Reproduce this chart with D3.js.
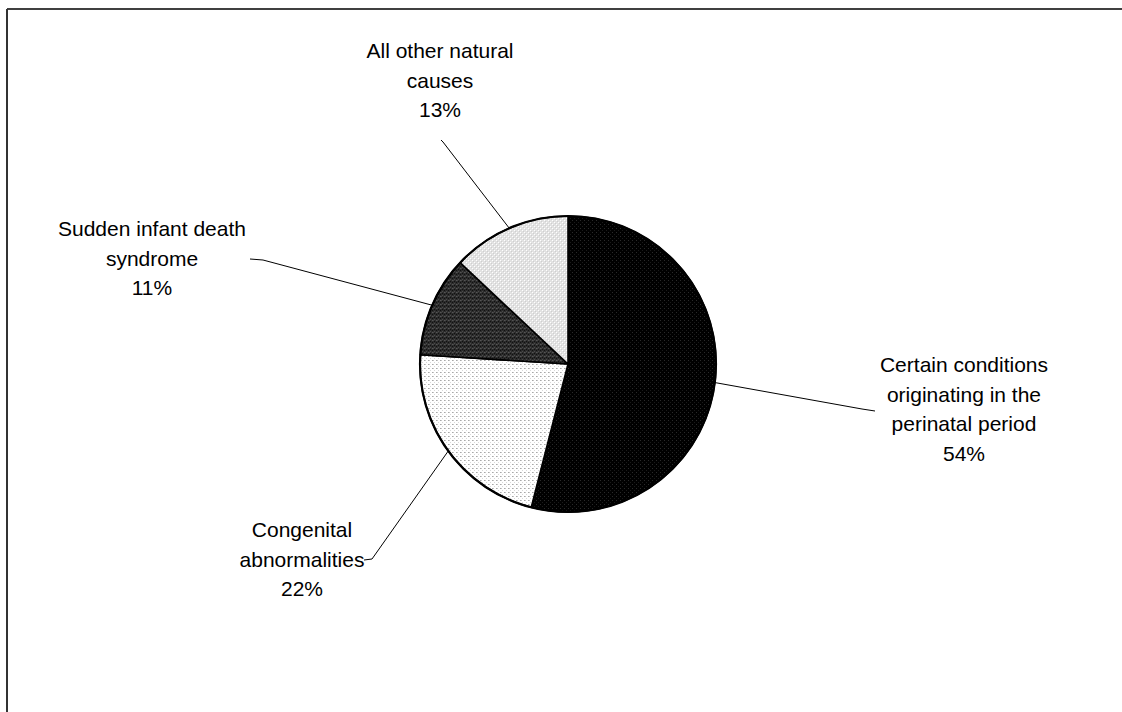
<!DOCTYPE html>
<html>
<head>
<meta charset="utf-8">
<script src="https://cdn.jsdelivr.net/npm/d3@7"></script>
<style>
  html, body { margin: 0; padding: 0; background: #fff; }
  svg { display: block; }
  text { font-family: "Liberation Sans", Arial, sans-serif; font-size: 21px; fill: #000; }
</style>
</head>
<body>
<svg id="chart" width="1122" height="712"></svg>
<script>
// ---- data ----
const categories = [
  "Certain conditions originating in the perinatal period",
  "Congenital abnormalities",
  "Sudden infant death syndrome",
  "All other natural causes"
];
const values = [54, 22, 11, 13];
const labelLines = [
  ["Certain conditions", "originating in the", "perinatal period"],
  ["Congenital", "abnormalities"],
  ["Sudden infant death", "syndrome"],
  ["All other natural", "causes"]
];

// ---- layout ----
const W = 1122, H = 712;
const cx = 568, cy = 364, R = 148;
const lineH = 29.5;
// label block: centre x, first baseline y, leader end (elbow + tip)
const labelLayout = [
  { x: 964, y: 372, elbow: [862, 409], tip: [875, 411] },
  { x: 302, y: 537, elbow: [372, 559], tip: [364, 560] },
  { x: 152, y: 236, elbow: [263, 260], tip: [250, 259] },
  { x: 440, y: 58,  elbow: [443, 142], tip: [441, 140] }
];
const fills = ["url(#pBlack)", "url(#pDots)", "url(#pDark)", "url(#pLight)"];

const svg = d3.select("#chart");
const defs = svg.append("defs");

function pattern(id, size, bg, pixels) {
  const p = defs.append("pattern").attr("id", id)
    .attr("patternUnits", "userSpaceOnUse")
    .attr("width", size).attr("height", size);
  p.append("rect").attr("width", size).attr("height", size).attr("fill", bg);
  pixels.forEach(([x, y, c]) => p.append("rect").attr("x", x).attr("y", y)
    .attr("width", 1).attr("height", 1).attr("fill", c));
}
pattern("pBlack", 4, "#000", [[0, 0, "#2a2a2a"], [2, 2, "#1a1a1a"]]);
pattern("pDots", 4, "#fff", [[0, 0, "#a8a8a8"], [1, 0, "#c8c8c8"], [2, 2, "#d8d8d8"]]);
pattern("pDark", 4, "#2c2c2c", [[0, 0, "#555"], [1, 0, "#444"], [0, 2, "#111"], [2, 1, "#111"], [2, 3, "#4a4a4a"]]);
pattern("pLight", 4, "#e2e2e2", [[0, 0, "#fff"], [2, 2, "#fff"], [1, 1, "#cfcfcf"], [3, 3, "#cfcfcf"]]);

// chart-area border (cropped on right / bottom)
svg.append("line").attr("x1", 7).attr("y1", 9).attr("x2", W).attr("y2", 9)
  .attr("stroke", "#000").attr("stroke-width", 1.5);
svg.append("line").attr("x1", 7).attr("y1", 9).attr("x2", 7).attr("y2", H)
  .attr("stroke", "#333").attr("stroke-width", 2);

const pie = d3.pie().sort(null).value(d => d)(values);
const arc = d3.arc().innerRadius(0).outerRadius(R);
const edge = d3.arc().innerRadius(R).outerRadius(R);

const g = svg.append("g").attr("transform", `translate(${cx},${cy})`);
g.selectAll("path.slice").data(pie).join("path")
  .attr("class", "slice")
  .attr("d", arc)
  .attr("fill", (d, i) => fills[i])
  .attr("stroke", "#000")
  .attr("stroke-width", 1.6)
  .attr("stroke-linejoin", "round");
g.append("circle").attr("r", R).attr("fill", "none")
  .attr("stroke", "#000").attr("stroke-width", 2.2);

// leader lines
pie.forEach((d, i) => {
  const c = edge.centroid(d);
  const L = labelLayout[i];
  svg.append("polyline")
    .attr("points", [[c[0] + cx, c[1] + cy], L.elbow, L.tip].map(p => p.join(",")).join(" "))
    .attr("fill", "none").attr("stroke", "#000").attr("stroke-width", 1);
});

// labels
const total = d3.sum(values);
labelLines.forEach((lines, i) => {
  const L = labelLayout[i];
  const all = lines.concat([Math.round(values[i] / total * 100) + "%"]);
  const t = svg.append("text").attr("text-anchor", "middle");
  all.forEach((s, k) => t.append("tspan").attr("x", L.x).attr("y", L.y + k * lineH).text(s));
});
</script>
</body>
</html>
